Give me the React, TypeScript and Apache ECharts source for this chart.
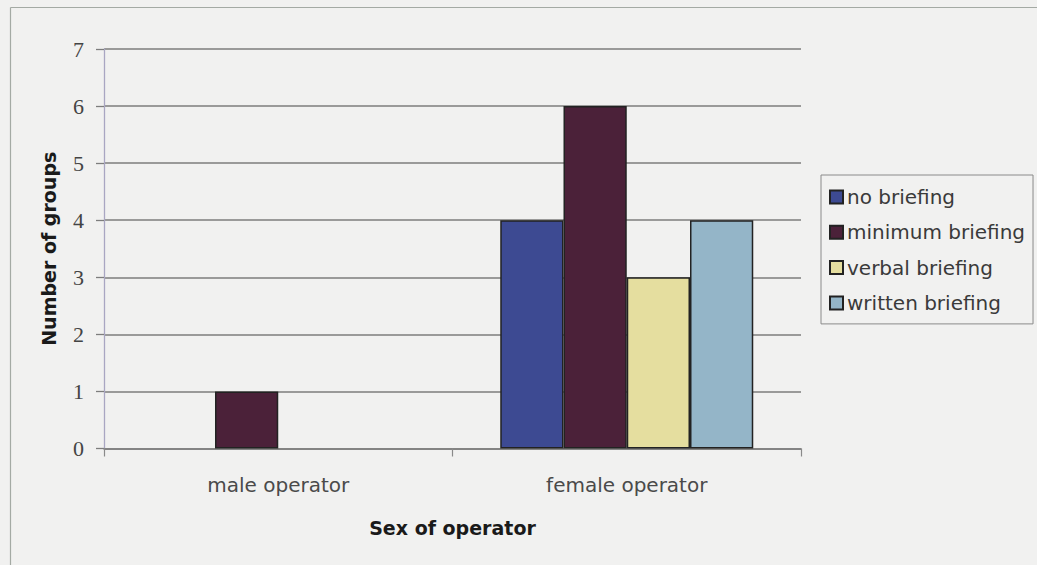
import React, { useEffect, useRef } from "react";
import * as echarts from "echarts";

// Grouped bar chart: number of groups by sex of operator and briefing type
const categories = ["male operator", "female operator"];
const seriesNames = ["no briefing", "minimum briefing", "verbal briefing", "written briefing"];
const noBriefing: (number | null)[] = [null, 4];
const minimumBriefing: (number | null)[] = [1, 6];
const verbalBriefing: (number | null)[] = [null, 3];
const writtenBriefing: (number | null)[] = [null, 4];
const seriesValues = [noBriefing, minimumBriefing, verbalBriefing, writtenBriefing];
const seriesColors = ["#3d4a92", "#4b2139", "#e5de9f", "#94b5c8"];
const yTicks = [0, 1, 2, 3, 4, 5, 6, 7];

const W = 1037;
const H = 565;

export default function App() {
  const ref = useRef<HTMLDivElement>(null);

  useEffect(() => {
    if (!ref.current) return;
    const chart = echarts.init(ref.current, undefined, { renderer: "svg" });
    chart.setOption({
      animation: false,
      backgroundColor: "#f1f1f0",
      graphic: [
        // chart-area frame: top and left edges (the rest runs off the canvas)
        {
          type: "line",
          shape: { x1: 10.5, y1: 7.5, x2: W, y2: 7.5 },
          style: { stroke: "#a4aaa4", lineWidth: 1.2 },
          silent: true,
        },
        {
          type: "line",
          shape: { x1: 10.5, y1: 7.5, x2: 10.5, y2: H },
          style: { stroke: "#a4aaa4", lineWidth: 1.2 },
          silent: true,
        },
      ],
      legend: {
        orient: "vertical",
        left: 821,
        top: 175,
        padding: [12, 8, 11, 8],
        itemWidth: 13,
        itemHeight: 13,
        itemGap: 15.3,
        icon: "rect",
        borderColor: "#8a8a8a",
        borderWidth: 1,
        textStyle: {
          fontFamily: "DejaVu Sans",
          fontSize: 20,
          lineHeight: 20,
          color: "#3a3a3a",
          padding: [0, 0, 0, -1],
        },
        data: seriesNames,
      },
      grid: {
        left: 104,
        right: W - 801,
        top: 49,
        bottom: H - 448.5,
        containLabel: false,
      },
      xAxis: {
        type: "category",
        data: categories,
        name: "Sex of operator",
        nameLocation: "middle",
        nameGap: 70,
        nameTextStyle: {
          fontFamily: "DejaVu Sans",
          fontWeight: "bold",
          fontSize: 19,
          color: "#1a1a1a",
        },
        axisLine: { show: true, lineStyle: { color: "#7d7d7d", width: 1.5 } },
        axisTick: { show: true, length: 8, lineStyle: { color: "#8a8a8a", width: 1.2 } },
        axisLabel: {
          margin: 26,
          fontFamily: "DejaVu Sans",
          fontSize: 20,
          color: "#4a4a4a",
        },
      },
      yAxis: {
        type: "value",
        min: yTicks[0],
        max: yTicks[yTicks.length - 1],
        interval: 1,
        name: "Number of groups",
        nameLocation: "middle",
        nameGap: 46,
        nameRotate: 90,
        nameTextStyle: {
          fontFamily: "DejaVu Sans",
          fontWeight: "bold",
          fontSize: 19,
          color: "#1a1a1a",
        },
        axisLine: { show: true, lineStyle: { color: "#a9a6c2", width: 1.3 } },
        axisTick: { show: true, length: 8, lineStyle: { color: "#7d7d7d", width: 1.3 } },
        axisLabel: {
          margin: 20,
          fontFamily: "Liberation Serif",
          fontSize: 22,
          color: "#444444",
        },
        splitLine: { show: true, lineStyle: { color: "#7d7d7d", width: 1.5 } },
      },
      series: seriesNames.map((name, i) => ({
        name,
        type: "bar",
        data: seriesValues[i],
        barGap: "0%",
        barCategoryGap: "27.4%",
        itemStyle: {
          color: seriesColors[i],
          borderColor: "#222222",
          borderWidth: 1.5,
        },
      })),
    });
    return () => chart.dispose();
  }, []);

  return (
    <div
      ref={ref}
      style={{ position: "absolute", left: 0, top: 0, width: W, height: H }}
    />
  );
}
